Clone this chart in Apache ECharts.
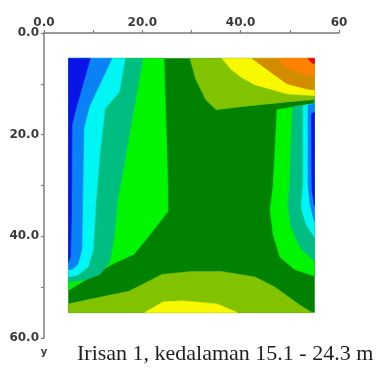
<!DOCTYPE html>
<html>
<head>
<meta charset="utf-8">
<script src="https://cdn.jsdelivr.net/npm/echarts@6/dist/echarts.min.js"></script>
<style>
  html, body { margin: 0; padding: 0; background: #ffffff; }
  #chart { width: 378px; height: 373px; }
</style>
</head>
<body>
<div id="chart"></div>
<script>
// Axis ticks and their printed labels
const xTicks = [0, 20, 40, 60];
const xTickLabels = ['0.0', '20.0', '40.0', '60'];
const yTicks = [0, 20, 40, 60];
const yTickLabels = ['0.0', '20.0', '40.0', '60.0'];
const captionText = 'Irisan 1, kedalaman 15.1 - 24.3 m';

// Contour band outlines as [x, y] pairs (y = depth, growing downward).
// Bands are painted in order, each one over the ones before it.
const bandCore = [[5, 5], [55, 5], [55, 55], [5, 55]];
const bandBottomOlive = [[5, 53.3], [9.4, 52.4], [17.3, 50.8], [24, 47.5], [30.1, 46.9], [36, 46.9], [42.9, 48], [47, 50], [51.7, 53.3], [54.3, 54.9], [55, 55], [5, 55]];
const bandBottomYellow = [[20.5, 55], [24.2, 52.9], [28.3, 52.7], [35.2, 53.3], [39.3, 55]];
const bandLeftGreen = [[5, 5], [24.4, 5], [25.2, 30.2], [25.2, 35.1], [21.6, 39.6], [18.3, 43.5], [13.8, 45.5], [9.8, 47.8], [6.3, 49.8], [5, 50.6]];
const bandLeftTeal = [[5, 5], [20.1, 5], [18.9, 11.6], [17.9, 16.9], [16.5, 24.9], [15, 32.7], [14.2, 40.6], [13.4, 44.9], [11.4, 47.5], [8.3, 48.6], [5, 49]];
const bandLeftCyan = [[5, 5], [16.5, 5], [15.3, 11.6], [12.4, 14.9], [11.4, 23.3], [10.6, 32.7], [10, 42.5], [9, 46], [6.9, 47.6], [5, 48]];
const bandLeftBlue = [[5, 5], [13.8, 5], [9.2, 14.5], [8.1, 18.8], [7.9, 30.8], [7.7, 42.5], [6.9, 45.5], [5.7, 46.5], [5, 46.5]];
const bandLeftDeepBlue = [[5, 5], [9.4, 5], [6.5, 14.9], [5.7, 18], [5.6, 35], [5.4, 44], [5, 45]];
const bandTopOlive = [[29.7, 5], [30.9, 9.2], [32.9, 13.1], [35, 15.1], [39.9, 14.5], [43.9, 14.1], [50, 13.5], [55, 13.1], [55, 5]];
const bandTopYellow = [[36.2, 5], [38.2, 7.3], [40.3, 8.8], [42.9, 10.2], [46, 11], [49.6, 12], [55, 12.3], [55, 5]];
const bandTopAmber = [[42.3, 5], [46, 7.6], [49.4, 10], [53.5, 11], [55, 11.2], [55, 5]];
const bandTopOrange = [[47.8, 5], [48.6, 6.3], [51.5, 7.6], [55, 8.6], [55, 5]];
const bandTopRed = [[53.7, 5], [54.4, 5.8], [55, 6.1], [55, 5]];
const bandRightGreen = [[47.4, 15.1], [55, 13.9], [55, 47.8], [51, 46.5], [48, 44.1], [46.6, 39.6], [46, 34.7], [46.6, 30.2], [47, 22.9]];
const bandRightTeal = [[50.6, 14.5], [55, 13.9], [55, 44.9], [52.3, 42.5], [50.2, 38.2], [49.6, 33.7], [50, 29.8], [50.2, 22.9]];
const bandRightCyan = [[52.7, 14.3], [55, 13.9], [55, 40.2], [53.3, 37.6], [52.3, 34.3], [52.7, 29.8]];
const bandRightBlue = [[53.7, 14.2], [55, 13.9], [55, 37.1], [54.1, 33.7], [53.7, 29.8]];
const bandRightDeepBlue = [[54.4, 16], [55, 15.5], [55, 34], [54.5, 31]];

// Palette of the contour levels
const colDeepBlue = '#0a14e6';
const colBlue = '#0a82f5';
const colCyan = '#00f5f5';
const colTeal = '#00be82';
const colGreen = '#00f500';
const colDarkGreen = '#008200';
const colOlive = '#82c300';
const colYellow = '#f8f800';
const colAmber = '#d28c00';
const colOrange = '#ff8200';
const colRed = '#f00014';

const bands = [
  { pts: bandCore, color: colDarkGreen },
  { pts: bandBottomOlive, color: colOlive },
  { pts: bandBottomYellow, color: colYellow },
  { pts: bandLeftGreen, color: colGreen },
  { pts: bandLeftTeal, color: colTeal },
  { pts: bandLeftCyan, color: colCyan },
  { pts: bandLeftBlue, color: colBlue },
  { pts: bandLeftDeepBlue, color: colDeepBlue },
  { pts: bandTopOlive, color: colOlive },
  { pts: bandTopYellow, color: colYellow },
  { pts: bandTopAmber, color: colAmber },
  { pts: bandTopOrange, color: colOrange },
  { pts: bandTopRed, color: colRed },
  { pts: bandRightGreen, color: colGreen },
  { pts: bandRightTeal, color: colTeal },
  { pts: bandRightCyan, color: colCyan },
  { pts: bandRightBlue, color: colBlue },
  { pts: bandRightDeepBlue, color: colDeepBlue }
];

const axisColor = '#7c7c7c';
const labelStyle = {
  fontFamily: 'DejaVu Sans',
  fontWeight: 'bold',
  fontSize: 12,
  color: '#3a3a3a'
};

const chart = echarts.init(document.getElementById('chart'), null, { renderer: 'canvas' });

chart.setOption({
  animation: false,
  backgroundColor: '#ffffff',
  grid: { left: 44, top: 33, right: 39, bottom: 35 },
  xAxis: {
    type: 'value',
    position: 'top',
    min: 0,
    max: 60,
    interval: 20,
    axisLine: { show: true, onZero: false, lineStyle: { color: axisColor, width: 1.5 } },
    axisTick: { show: true, length: 3, lineStyle: { color: axisColor, width: 1.2 } },
    minorTick: { show: true, splitNumber: 2, length: 3, lineStyle: { color: axisColor, width: 1.2 } },
    splitLine: { show: false },
    minorSplitLine: { show: false },
    axisLabel: Object.assign({
      margin: 4,
      formatter: v => xTickLabels[xTicks.indexOf(v)]
    }, labelStyle)
  },
  yAxis: {
    type: 'value',
    inverse: true,
    min: 0,
    max: 60,
    interval: 20,
    name: 'y',
    nameLocation: 'end',
    nameGap: 9,
    nameTextStyle: Object.assign({}, labelStyle, { fontSize: 10 }),
    axisLine: { show: true, onZero: false, lineStyle: { color: axisColor, width: 1.5 } },
    axisTick: { show: true, length: 3, lineStyle: { color: axisColor, width: 1.2 } },
    minorTick: { show: true, splitNumber: 2, length: 3, lineStyle: { color: axisColor, width: 1.2 } },
    splitLine: { show: false },
    minorSplitLine: { show: false },
    axisLabel: Object.assign({
      margin: 5,
      formatter: v => yTickLabels[yTicks.indexOf(v)]
    }, labelStyle)
  },
  series: [{
    type: 'custom',
    coordinateSystem: 'cartesian2d',
    clip: true,
    silent: true,
    data: bands.map((b, i) => [i, 0]),
    renderItem: function (params, api) {
      const band = bands[api.value(0)];
      const points = band.pts.map(p => api.coord(p));
      return {
        type: 'polygon',
        shape: { points: points },
        style: { fill: band.color, stroke: band.color, lineWidth: 0.6 }
      };
    }
  }],
  graphic: [{
    type: 'text',
    left: 77,
    top: 343,
    style: {
      text: captionText,
      fontFamily: 'Liberation Serif',
      fontSize: 22,
      fill: '#1e1e1e'
    }
  }]
});
</script>
</body>
</html>
